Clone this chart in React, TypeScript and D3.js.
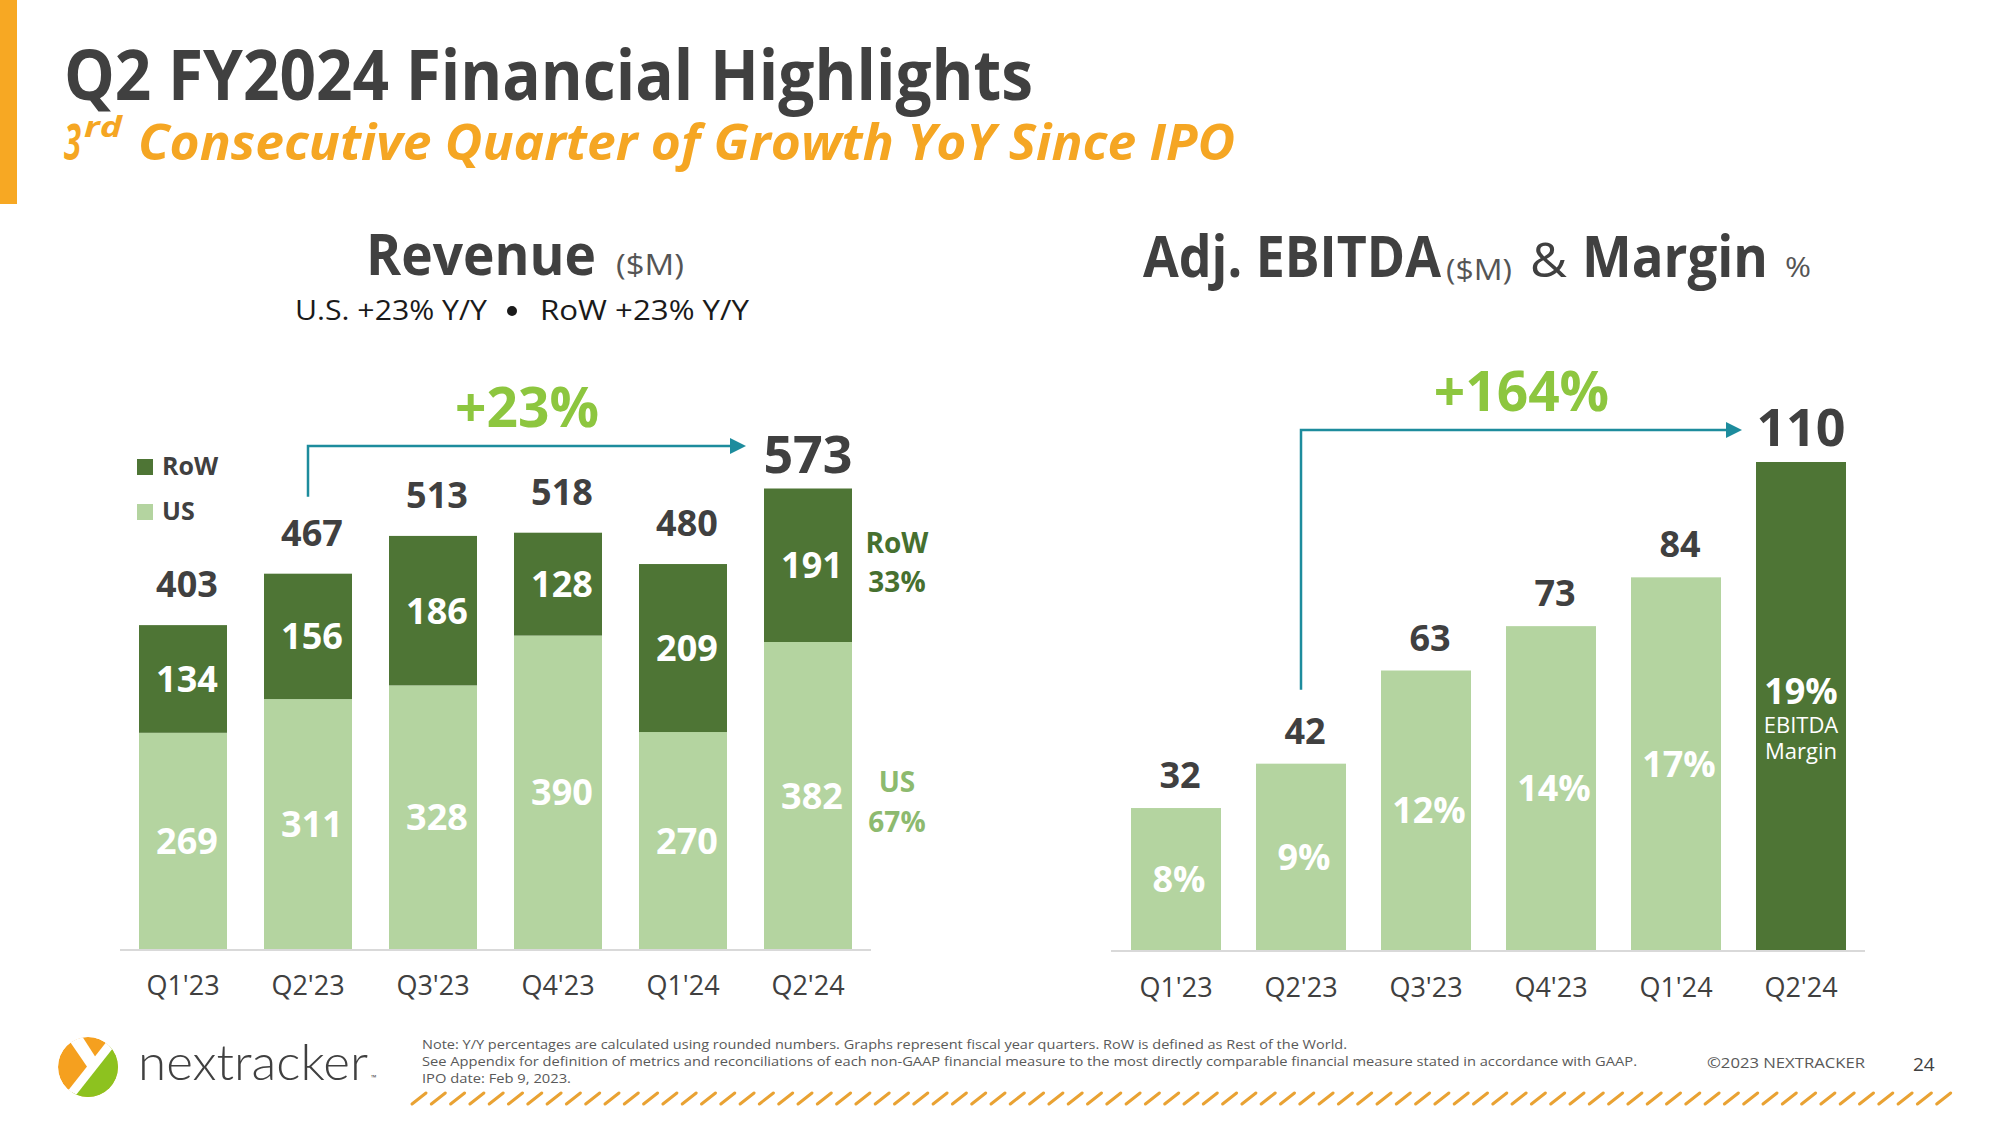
import React from "react";
import * as d3 from "d3";

const quarters = ["Q1'23", "Q2'23", "Q3'23", "Q4'23", "Q1'24", "Q2'24"];
const usRevenue = [269, 311, 328, 390, 270, 382];
const rowRevenue = [134, 156, 186, 128, 209, 191];
const totalRevenue = [403, 467, 513, 518, 480, 573];
const ebitda = [32, 42, 63, 73, 84, 110];
const ebitdaMargin = [8, 9, 12, 14, 17, 19];
const revenueGrowth = "+23%";
const ebitdaGrowth = "+164%";
const rowShare = 33;
const usShare = 67;
const noteLines = [
  "Note: Y/Y percentages are calculated using rounded numbers. Graphs represent fiscal year quarters. RoW is defined as Rest of the World.",
  "See Appendix for definition of metrics and reconciliations of each non-GAAP financial measure to the most directly comparable financial measure stated in accordance with GAAP.",
  "IPO date: Feb 9, 2023.",
];

const FONT = "'Open Sans', 'DejaVu Sans', sans-serif";
const DARK = "#4E7535";
const LIGHT = "#B4D4A0";
const GRAY = "#404040";
const TEAL = "#1D8C9D";
const LIME = "#8DC63F";
const ORANGE = "#F5A623";

export default function App() {
  // Revenue chart scales
  const xR = d3.scaleBand<string>().domain(quarters).range([120.5, 870.5]).paddingInner(0.296).paddingOuter(0.148);
  const yR = d3.scaleLinear().domain([0, 573]).range([949, 488.5]);
  const rows = quarters.map((q, i) => ({ q, US: usRevenue[i], RoW: rowRevenue[i] }));
  const stacked = d3.stack<any>().keys(["US", "RoW"])(rows);

  // EBITDA chart scales
  const xE = d3.scaleBand<string>().domain(quarters).range([1113.5, 1863.5]).paddingInner(0.28).paddingOuter(0.14);
  const yE = d3.scaleLinear().domain([0, 110]).range([950, 462]);

  const last = quarters.length - 1;
  const cR = (q: string) => (xR(q) as number) + xR.bandwidth() / 2;
  const cE = (q: string) => (xE(q) as number) + xE.bandwidth() / 2;

  // arrows
  const rArrowX0 = cR(quarters[1]);
  const rArrowY0 = yR(totalRevenue[1]) - 28 - 26 - 23;
  const rArrowY = 446;
  const rArrowX1 = (xR(quarters[last]) as number) - 18;
  const eArrowX0 = cE(quarters[1]);
  const eArrowY0 = yE(ebitda[1]) - 18 - 26 - 30;
  const eArrowY = 430;
  const eArrowX1 = (xE(quarters[last]) as number) - 14;

  const slashes = d3.range(0, 80).map((i) => 412 + i * 19.3);

  return (
    <svg width={2000} height={1125} style={{ position: "absolute", left: 0, top: 0 }} fontFamily={FONT}>
      <rect width={2000} height={1125} fill="#fff" />
      {/* left orange bar */}
      <rect x={0} y={0} width={17} height={204} fill="#F7A823" />
      {/* title */}
      <text x={64} y={100} fontSize={70} fontWeight={700} fill={GRAY} textLength={969} lengthAdjust="spacingAndGlyphs">
        Q2 FY2024 Financial Highlights
      </text>
      <g fill={ORANGE} fontWeight={700} fontStyle="italic">
        <text x={64} y={160} fontSize={50} textLength={17} lengthAdjust="spacingAndGlyphs">3</text>
        <text x={84} y={137} fontSize={28} textLength={38} lengthAdjust="spacingAndGlyphs">rd</text>
        <text x={138} y={160} fontSize={50} textLength={1097} lengthAdjust="spacingAndGlyphs">
          Consecutive Quarter of Growth YoY Since IPO
        </text>
      </g>

      {/* Revenue header */}
      <text x={366} y={275} fontSize={57} fontWeight={700} fill={GRAY} textLength={230} lengthAdjust="spacingAndGlyphs">Revenue</text>
      <text x={616} y={275} fontSize={30} fill="#555" textLength={68} lengthAdjust="spacingAndGlyphs">($M)</text>
      <text x={295} y={320} fontSize={28} fill="#1a1a1a" textLength={192} lengthAdjust="spacingAndGlyphs">U.S. +23% Y/Y</text>
      <circle cx={512} cy={311} r={5} fill="#1a1a1a" />
      <text x={540} y={320} fontSize={28} fill="#1a1a1a" textLength={209} lengthAdjust="spacingAndGlyphs">RoW +23% Y/Y</text>

      {/* EBITDA header */}
      <text x={1143} y={277} fontSize={57} fontWeight={700} fill={GRAY} textLength={298} lengthAdjust="spacingAndGlyphs">Adj. EBITDA</text>
      <text x={1446} y={280} fontSize={30} fill="#555" textLength={66} lengthAdjust="spacingAndGlyphs">($M)</text>
      <text x={1530} y={277} fontSize={48} fill={GRAY} textLength={37} lengthAdjust="spacingAndGlyphs">&amp;</text>
      <text x={1582} y={277} fontSize={57} fontWeight={700} fill={GRAY} textLength={186} lengthAdjust="spacingAndGlyphs">Margin</text>
      <text x={1785} y={277} fontSize={28} fill="#555" textLength={26} lengthAdjust="spacingAndGlyphs">%</text>

      {/* Revenue axis line */}
      <line x1={120} x2={871} y1={yR(0) + 1} y2={yR(0) + 1} stroke="#D9D9D9" strokeWidth={2} />
      {/* Revenue stacked bars */}
      {stacked.map((layer) => (
        <g key={layer.key}>
          {layer.map((d: any, i: number) => (
            <g key={i}>
              <rect
                x={xR(quarters[i])}
                y={yR(d[1])}
                width={xR.bandwidth()}
                height={yR(d[0]) - yR(d[1])}
                fill={layer.key === "US" ? LIGHT : DARK}
              />
              <text
                x={cR(quarters[i]) + 4}
                y={(yR(d[0]) + yR(d[1])) / 2 + 13}
                textAnchor="middle"
                fontSize={36}
                fontWeight={700}
                fill="#fff"
              >
                {d[1] - d[0]}
              </text>
            </g>
          ))}
        </g>
      ))}
      {/* Revenue totals */}
      {totalRevenue.map((t, i) => {
        const top = yR(usRevenue[i] + rowRevenue[i]);
        const big = i === last;
        return (
          <text
            key={i}
            x={cR(quarters[i]) + (big ? 0 : 4)}
            y={top - (big ? 16 : 28)}
            textAnchor="middle"
            fontSize={big ? 52 : 36}
            fontWeight={700}
            fill={GRAY}
          >
            {t}
          </text>
        );
      })}
      {/* Revenue x labels */}
      {quarters.map((q) => (
        <text key={q} x={cR(q)} y={995} textAnchor="middle" fontSize={27} fill={GRAY}>
          {q}
        </text>
      ))}
      {/* Legend */}
      <rect x={137} y={459} width={16} height={16} fill={DARK} />
      <text x={162} y={475} fontSize={25} fontWeight={700} fill={GRAY}>RoW</text>
      <rect x={137} y={504} width={16} height={16} fill={LIGHT} />
      <text x={162} y={520} fontSize={25} fontWeight={700} fill={GRAY}>US</text>
      {/* Share annotations */}
      <g textAnchor="middle" fontWeight={700} fontSize={28}>
        <text x={897} y={553} fill="#46702F">RoW</text>
        <text x={897} y={592} fill="#46702F">{rowShare}%</text>
        <text x={897} y={792} fill="#8DBA6F">US</text>
        <text x={897} y={832} fill="#8DBA6F">{usShare}%</text>
      </g>
      {/* Revenue growth arrow */}
      <path d={`M${rArrowX0},${rArrowY0}V${rArrowY}H${rArrowX1 - 14}`} fill="none" stroke={TEAL} strokeWidth={2.5} />
      <polygon points={`${rArrowX1},${rArrowY} ${rArrowX1 - 16},${rArrowY - 8} ${rArrowX1 - 16},${rArrowY + 8}`} fill={TEAL} />
      <text x={(rArrowX0 + rArrowX1) / 2} y={rArrowY - 19} textAnchor="middle" fontSize={55} fontWeight={700} fill={LIME}>
        {revenueGrowth}
      </text>

      {/* EBITDA axis line */}
      <line x1={1111} x2={1865} y1={yE(0) + 1} y2={yE(0) + 1} stroke="#D9D9D9" strokeWidth={2} />
      {ebitda.map((v, i) => {
        const q = quarters[i];
        const big = i === last;
        const mid = (yE(0) + yE(v)) / 2;
        return (
          <g key={q}>
            <rect x={xE(q)} y={yE(v)} width={xE.bandwidth()} height={yE(0) - yE(v)} fill={big ? DARK : LIGHT} />
            <text
              x={cE(q) + (big ? 0 : 4)}
              y={yE(v) - (big ? 16 : 20)}
              textAnchor="middle"
              fontSize={big ? 52 : 36}
              fontWeight={700}
              fill={GRAY}
            >
              {v}
            </text>
            {big ? (
              <g textAnchor="middle" fill="#fff">
                <text x={cE(q)} y={mid - 2} fontSize={36} fontWeight={700}>
                  {ebitdaMargin[i]}%
                </text>
                <text x={cE(q)} y={mid + 27} fontSize={22}>EBITDA</text>
                <text x={cE(q)} y={mid + 53} fontSize={22}>Margin</text>
              </g>
            ) : (
              <text x={cE(q) + 3} y={mid + 13} textAnchor="middle" fontSize={36} fontWeight={700} fill="#fff">
                {ebitdaMargin[i]}%
              </text>
            )}
          </g>
        );
      })}
      {quarters.map((q) => (
        <text key={q} x={cE(q)} y={997} textAnchor="middle" fontSize={27} fill={GRAY}>
          {q}
        </text>
      ))}
      {/* EBITDA growth arrow */}
      <path d={`M${eArrowX0},${eArrowY0}V${eArrowY}H${eArrowX1 - 14}`} fill="none" stroke={TEAL} strokeWidth={2.5} />
      <polygon points={`${eArrowX1},${eArrowY} ${eArrowX1 - 16},${eArrowY - 8} ${eArrowX1 - 16},${eArrowY + 8}`} fill={TEAL} />
      <text x={(eArrowX0 + eArrowX1) / 2} y={eArrowY - 19} textAnchor="middle" fontSize={55} fontWeight={700} fill={LIME}>
        {ebitdaGrowth}
      </text>

      {/* Footer logo */}
      <defs>
        <clipPath id="logoClip">
          <circle r={30} />
        </clipPath>
      </defs>
      <g transform="translate(88,1067)" clipPath="url(#logoClip)">
        <circle r={30} fill="#F5A01F" />
        <polygon points="-32,46 38,-42 40,-42 40,40 -32,40" fill="#8DC21F" />
        <line x1={-24} y1={36} x2={28} y2={-30} stroke="#fff" strokeWidth={9} />
        <polygon points="-24,-34 -8,-34 10,-6 2,4" fill="#fff" />
      </g>
      <text x={138} y={1080} fontSize={50} fontWeight={300} fill={GRAY} fontFamily="Lato, 'Open Sans', sans-serif" textLength={230} lengthAdjust="spacingAndGlyphs">
        nextracker
      </text>
      <text x={371} y={1080} fontSize={7} fill={GRAY}>™</text>

      {/* Notes */}
      <g fontSize={13} fill="#595959">
        <text x={422} y={1049} textLength={925} lengthAdjust="spacingAndGlyphs">{noteLines[0]}</text>
        <text x={422} y={1066} textLength={1215} lengthAdjust="spacingAndGlyphs">{noteLines[1]}</text>
        <text x={422} y={1083} textLength={149} lengthAdjust="spacingAndGlyphs">{noteLines[2]}</text>
      </g>
      <text x={1707} y={1068} fontSize={15} fill="#595959" textLength={158} lengthAdjust="spacingAndGlyphs">©2023 NEXTRACKER</text>
      <text x={1913} y={1071} fontSize={19} fill="#404040">24</text>

      {/* decorative slashes */}
      <g stroke="#E9A233" strokeWidth={3} strokeLinecap="round">
        {slashes.map((x, i) => (
          <line key={i} x1={x} y1={1104} x2={x + 14} y2={1093} />
        ))}
      </g>
    </svg>
  );
}
